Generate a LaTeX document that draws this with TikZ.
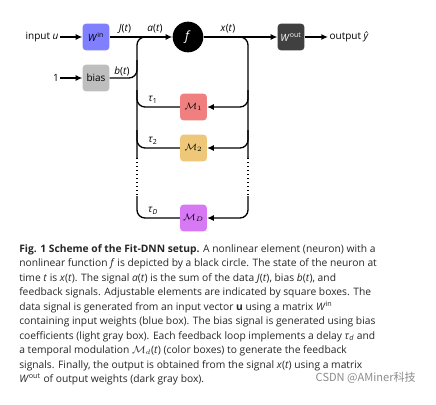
\documentclass[tikz,border=0pt]{standalone}
\usepackage{fontspec}
\setmainfont{Open Sans}
\newfontfamily\cjk{Noto Sans CJK SC}
\usetikzlibrary{arrows.meta}
\definecolor{winc}{RGB}{128,128,255}
\definecolor{biasc}{RGB}{190,190,190}
\definecolor{mone}{RGB}{240,128,128}
\definecolor{mtwo}{RGB}{238,200,120}
\definecolor{mdc}{RGB}{215,120,245}
\definecolor{woutc}{RGB}{64,64,64}
\begin{document}
\begin{tikzpicture}[x=0.75pt,y=-0.75pt,
  box/.style={rounded corners=2.5pt, minimum width=20pt, minimum height=20pt, inner sep=0pt, font=\fontsize{7.5}{9}\selectfont},
  sig/.style={line width=1pt},
  arr/.style={sig,-{Latex[length=5pt,width=4.5pt]}},
  lbl/.style={font=\fontsize{7.5}{9}\selectfont, inner sep=1pt},
  bus/.style={sig, rounded corners=6pt},
]
\useasboundingbox (0,0) rectangle (436,404);
\fill[white] (0,0) rectangle (436,404);

% nodes
\node[lbl] (in) at (42,37) {input \textit{u}};
\node[box, fill=winc] (win) at (96,37) {\textit{W}\textsuperscript{in}};
\node[circle, fill=black, minimum size=23pt, inner sep=0pt, text=white, font=\fontsize{9.5}{10}\selectfont] (f) at (188,37) {\textit{f}};
\node[box, fill=woutc, text=white] (wout) at (291,37) {\textit{W}\textsuperscript{out}};
\node[lbl, anchor=west] (out) at (328,37) {output \textit{ŷ}};
\node[lbl] (one) at (56,78) {1};
\node[box, fill=biasc] (bias) at (96,78) {bias};
\node[box, fill=mone] (m1) at (193.5,107) {$\mathcal{M}_1$};
\node[box, fill=mtwo] (m2) at (193.5,148) {$\mathcal{M}_2$};
\node[box, fill=mdc] (mD) at (193.5,218) {$\mathcal{M}_D$};

% bus coordinates
\coordinate (Ltop) at (137,37);
\coordinate (Lend) at (152,37);
\coordinate (Lb) at (137,78);
\coordinate (Lb2) at (137,60);
\coordinate (L1) at (137,107);
\coordinate (L1u) at (137,90);
\coordinate (L2) at (137,148);
\coordinate (L2u) at (137,130);
\coordinate (Ldot1) at (137,158);
\coordinate (Ldot2) at (137,196);
\coordinate (LD) at (137,218);
\coordinate (Rstart) at (230,37);
\coordinate (Rtop) at (248,37);
\coordinate (R1u) at (248,90);
\coordinate (R1) at (248,107);
\coordinate (R2u) at (248,130);
\coordinate (R2) at (248,148);
\coordinate (Rdot1) at (248,158);
\coordinate (Rdot2) at (248,196);
\coordinate (RD) at (248,218);

% main arrows
\draw[arr] (in) -- (win);
\draw[arr] (one) -- (bias);
\draw[arr] (win) -- (f);
\draw[arr] (f) -- (wout);
\draw[arr] (wout) -- (out);

% left bus
\draw[bus] (Ldot1) -- (Ltop) -- (Lend);
\draw[bus] (bias.east) -- (Lb) -- (Lb2);
\draw[bus] (m1.west) -- (L1) -- (L1u);
\draw[bus] (m2.west) -- (L2) -- (L2u);
\draw[bus] (mD.west) -- (LD) -- (Ldot2);
\draw[sig, dotted] (Ldot1) -- (Ldot2);

% right bus
\draw[bus] (Rstart) -- (Rtop) -- (Rdot1);
\draw[arr, rounded corners=6pt] (R1u) -- (R1) -- (m1.east);
\draw[arr, rounded corners=6pt] (R2u) -- (R2) -- (m2.east);
\draw[arr, rounded corners=6pt] (Rdot2) -- (RD) -- (mD.east);
\draw[sig, dotted] (Rdot1) -- (Rdot2);

% labels
\node[lbl] (lJ) at (125,29) {\textit{J}(\textit{t})};
\node[lbl] (la) at (155,29) {\textit{a}(\textit{t})};
\node[lbl] (lx) at (228,29) {\textit{x}(\textit{t})};
\node[lbl] (lb) at (122,71) {\textit{b}(\textit{t})};
\node[lbl] (t1) at (153,100) {\textit{τ}\textsubscript{1}};
\node[lbl] (t2) at (153,141) {\textit{τ}\textsubscript{2}};
\node[lbl] (tD) at (153,211) {\textit{τ}\textsubscript{\textit{D}}};

% caption
\node[anchor=north west, align=left, inner sep=0pt, text=black!85,
  font=\fontsize{7.7}{10.875}\selectfont] (cap) at (19,244) {%
\textbf{Fig. 1 Scheme of the Fit-DNN setup.} A nonlinear element (neuron) with a\\
nonlinear function \textit{f} is depicted by a black circle. The state of the neuron at\\
time \textit{t} is \textit{x}(\textit{t}). The signal \textit{a}(\textit{t}) is the sum of the data \textit{J}(\textit{t}), bias \textit{b}(\textit{t}), and\\
feedback signals. Adjustable elements are indicated by square boxes. The\\
data signal is generated from an input vector \textbf{u} using a matrix \textit{W}\textsuperscript{in}\\
containing input weights (blue box). The bias signal is generated using bias\\
coefficients (light gray box). Each feedback loop implements a delay \textit{τ}\textsubscript{\textit{d}} and\\
a temporal modulation $\mathcal{M}_d$(\textit{t}) (color boxes) to generate the feedback\\
signals. Finally, the output is obtained from the signal \textit{x}(\textit{t}) using a matrix\\
\textit{W}\textsuperscript{out} of output weights (dark gray box).};

\node[anchor=east, inner sep=0pt, text=black!45, font=\cjk\fontsize{8.3}{10}\selectfont] (wm) at (416,378) {CSDN @AMiner科技};
\end{tikzpicture}
\end{document}
